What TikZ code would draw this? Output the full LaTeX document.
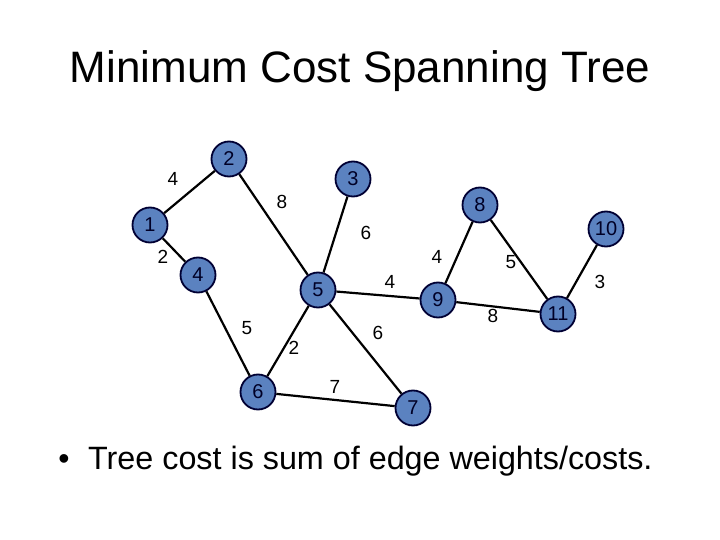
\documentclass[tikz,border=0pt]{standalone}
\usepackage{fontspec}
\setmainfont{Liberation Sans}
\begin{document}
\begin{tikzpicture}[x=1pt,y=-1pt,
  vtx/.style={circle,draw=black!80!blue,line width=1.8pt,fill=nodeblue,minimum size=35pt,inner sep=0pt,font=\fontsize{20}{20}\selectfont,text=black!85!blue,text depth=-2pt},
  edge/.style={line width=2.2pt,black},
  wt/.style={font=\fontsize{19}{19}\selectfont,inner sep=0pt}]
\definecolor{nodeblue}{HTML}{5B82C0}
\useasboundingbox (0,0) rectangle (720,540);
\node[font=\fontsize{44}{44}\selectfont,anchor=base] (title) at (360,83) {Minimum Cost Spanning Tree};
\node (n1) [vtx] at (150,225) {1};
\node (n2) [vtx] at (229,159) {2};
\node (n3) [vtx] at (353,179) {3};
\node (n4) [vtx] at (198,275) {4};
\node (n5) [vtx] at (318,290) {5};
\node (n6) [vtx] at (258,392) {6};
\node (n7) [vtx] at (413,408) {7};
\node (n8) [vtx] at (480,205) {8};
\node (n9) [vtx] at (438,300) {9};
\node (n10) [vtx] at (606,229) {10};
\node (n11) [vtx] at (558,314) {11};
\draw[edge] (n1) -- (n2);
\draw[edge] (n2) -- (n5);
\draw[edge] (n3) -- (n5);
\draw[edge] (n1) -- (n4);
\draw[edge] (n4) -- (n6);
\draw[edge] (n5) -- (n6);
\draw[edge] (n5) -- (n9);
\draw[edge] (n5) -- (n7);
\draw[edge] (n6) -- (n7);
\draw[edge] (n9) -- (n8);
\draw[edge] (n8) -- (n11);
\draw[edge] (n9) -- (n11);
\draw[edge] (n10) -- (n11);
\node[wt] (w12) at (173,179) {4};
\node[wt] (w25) at (282,202) {8};
\node[wt] (w35) at (366,233) {6};
\node[wt] (w14) at (163,257) {2};
\node[wt] (w59) at (390,282) {4};
\node[wt] (w98) at (437,257) {4};
\node[wt] (w811) at (511,262) {5};
\node[wt] (w1011) at (600,282) {3};
\node[wt] (w911) at (493,316) {8};
\node[wt] (w46) at (247,328) {5};
\node[wt] (w56) at (294,348) {2};
\node[wt] (w57) at (378,333) {6};
\node[wt] (w67) at (335,387) {7};
\node[font=\fontsize{32}{32}\selectfont,anchor=base] (bullet) at (64,469) {\textbullet};
\node[font=\fontsize{32.3}{32}\selectfont,anchor=base west,inner sep=0pt] (btext) at (88,469) {Tree cost is sum of edge weights/costs.};
\end{tikzpicture}
\end{document}
